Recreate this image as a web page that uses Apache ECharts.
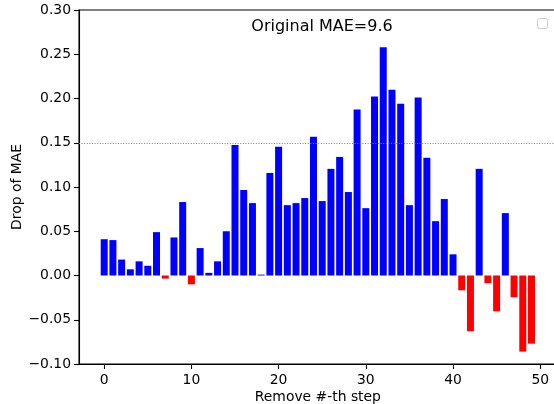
<!DOCTYPE html>
<html>
<head>
<meta charset="utf-8">
<script src="https://cdn.jsdelivr.net/npm/echarts@6/dist/echarts.min.js"></script>
<style>html,body{margin:0;padding:0;background:#fff}#c{width:554px;height:404px}</style>
</head>
<body>
<div id="c"></div>
<script>
var steps = [];
for (var i = 0; i < 50; i++) steps.push(i);
var drops = [
  0.041, 0.040, 0.018, 0.007, 0.016, 0.011, 0.049, -0.0035, 0.043, 0.083,
  -0.010, 0.031, 0.003, 0.016, 0.050, 0.1475, 0.0966, 0.0818, 0.001, 0.1159,
  0.1455, 0.0795, 0.0818, 0.0875, 0.1568, 0.0841, 0.1205, 0.134, 0.0943, 0.1875,
  0.0761, 0.2023, 0.258, 0.210, 0.194, 0.0795, 0.201, 0.133, 0.0614, 0.0864,
  0.0239, -0.0167, -0.063, 0.1205, -0.0087, -0.0405, 0.0705, -0.0246, -0.086, -0.077
];
var xTicks = [0, 10, 20, 30, 40, 50];
var refLine = 0.15;
var titleText = 'Original MAE=9.6';
var xName = 'Remove #-th step';
var yName = 'Drop of MAE';

var font = 'DejaVu Sans';
var chart = echarts.init(document.getElementById('c'), null, {renderer: 'canvas'});
var data = steps.map(function (s, i) { return [s, drops[i]]; });

chart.setOption({
  animation: false,
  backgroundColor: '#fff',
  title: {
    text: titleText, left: 317, top: 14, textAlign: 'center',
    textStyle: {fontFamily: font, fontSize: 16, fontWeight: 'normal', color: '#000'}
  },
  grid: {left: 79, top: 10, width: 477.7, height: 354, show: true, borderColor: '#000', borderWidth: 1.1,
    backgroundColor: 'transparent', containLabel: false, outerBoundsMode: 'none'},
  xAxis: {
    type: 'value', min: -2.89, max: 51.89,
    name: xName, nameLocation: 'middle', nameGap: 26, nameMoveOverlap: false,
    nameTextStyle: {fontFamily: font, fontSize: 13.9, color: '#000'},
    axisLine: {show: true, onZero: false, lineStyle: {color: '#000', width: 1.1}},
    axisTick: {show: true, length: 5, lineStyle: {color: '#000', width: 1.1}, customValues: xTicks},
    axisLabel: {fontFamily: font, fontSize: 13.9, color: '#000', margin: 9, customValues: xTicks,
      formatter: function (v) { return String(Math.round(v)); }},
    splitLine: {show: false}
  },
  yAxis: {
    type: 'value', min: -0.1, max: 0.3, interval: 0.05,
    name: yName, nameLocation: 'middle', nameGap: 55, nameRotate: 90, nameMoveOverlap: false,
    nameTextStyle: {fontFamily: font, fontSize: 13.9, color: '#000'},
    axisLine: {show: true, onZero: false, lineStyle: {color: '#000', width: 1.1}},
    axisTick: {show: true, length: 5, lineStyle: {color: '#000', width: 1.1}},
    axisLabel: {fontFamily: font, fontSize: 13.9, color: '#000', margin: 8,
      formatter: function (v) {
        var r = Math.round(v * 100) / 100;
        return (r < 0 ? '\u2212' : '') + Math.abs(r).toFixed(2);
      }},
    splitLine: {show: false}
  },
  series: [{
    type: 'bar',
    data: data,
    barWidth: 7,
    itemStyle: {color: function (p) { return p.value[1] < 0 ? '#ff0000' : '#0000ff'; }},
    markLine: {
      silent: true, symbol: 'none', label: {show: false},
      lineStyle: {color: '#808080', type: [1, 1.6], width: 1},
      data: [{yAxis: refLine}]
    }
  }],
  graphic: [{
    type: 'rect', shape: {x: 537.5, y: 18.5, width: 10, height: 10, r: 2},
    style: {fill: '#fff', stroke: '#cccccc', lineWidth: 1}
  }]
});
</script>
</body>
</html>
